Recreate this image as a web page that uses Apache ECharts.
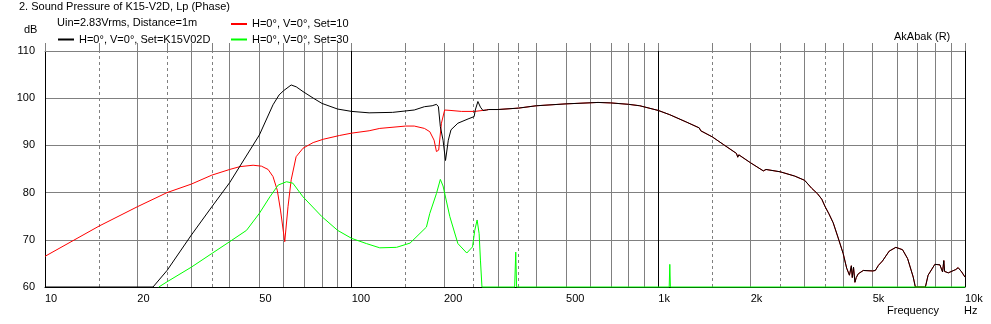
<!DOCTYPE html>
<html>
<head>
<meta charset="utf-8">
<title>Sound Pressure of K15-V2D</title>
<script src="https://cdn.jsdelivr.net/npm/echarts@6/dist/echarts.min.js"></script>
<style>
  html, body { margin: 0; padding: 0; background: #fff; }
  #chart { width: 991px; height: 324px; }
</style>
</head>
<body>
<div id="chart"></div>
<script>
// --- data (Hz / dB) ---
// black: Set=K15V02D, below 280 Hz
const k15Freq = [10, 22.5, 25, 30, 35, 40, 50, 55.4, 58, 60, 63.5, 66, 69.4, 75, 80, 90, 100, 114, 136, 160, 172.7, 183, 189, 191.8, 194.6, 198.6, 202.3, 206.6, 210.8, 222, 239.6, 250.8, 253, 258, 263, 268, 275];
const k15Db = [60, 60, 63.5, 71.0, 77.0, 82.1, 92.2, 98.6, 100.7, 101.6, 102.8, 102.4, 101.4, 100.0, 98.9, 97.7, 97.2, 96.9, 97.0, 97.5, 98.2, 98.4, 98.7, 98.2, 94.0, 91.1, 86.8, 91.1, 93.3, 94.7, 95.6, 96.1, 97.5, 99.3, 98.1, 97.4, 97.5];

// red: Set=10, below 280 Hz
const set10Freq = [10, 15, 20, 25, 30, 35, 40, 43.2, 47.7, 50.8, 53.4, 55.4, 57.2, 58.6, 60.5, 62.0, 63.5, 65.9, 69.4, 74.9, 80.8, 91.3, 100, 114, 123.5, 150, 160, 172.7, 179.8, 185.7, 189, 192.2, 196.2, 201, 210.8, 228, 252, 275];
const set10Db = [66.5, 72.9, 77.0, 80.0, 81.8, 83.7, 84.9, 85.5, 85.8, 85.6, 84.9, 83.4, 80.5, 76.3, 69.6, 77.0, 82.7, 87.6, 89.4, 90.6, 91.3, 92.1, 92.6, 93.1, 93.6, 94.1, 94.1, 93.6, 92.9, 91.1, 88.7, 89.0, 94.7, 97.5, 97.4, 97.2, 97.2, 97.5];

// above 280 Hz black and red lie on top of each other
const highFreq = [280, 300, 350, 400, 500, 636, 700, 800, 870, 1000, 1090, 1239, 1360, 1375, 1390, 1500, 1629, 1798, 1815, 1830, 2000, 2200, 2226, 2245, 2500, 2785, 3000, 3164, 3300, 3412, 3500, 3600, 3717, 3850, 4006, 4112, 4200, 4238, 4260, 4290, 4330, 4376, 4420, 4487, 4660, 5000, 5100, 5222, 5380, 5660, 5950, 6257, 6500, 6779, 6888, 7428, 7580, 7973, 8280, 8450, 8530, 8580, 8820, 9330, 9500, 9750, 10000];
const highDb = [97.6, 97.6, 97.9, 98.4, 98.8, 99.1, 99.0, 98.7, 98.4, 97.4, 96.5, 94.9, 93.7, 93.1, 93.5, 91.8, 90.2, 88.3, 87.5, 88.0, 86.3, 84.6, 84.2, 84.9, 84.4, 83.5, 82.6, 80.9, 79.8, 78.6, 77.0, 75.5, 73.6, 70.6, 67.1, 64.0, 62.5, 62.7, 64.5, 62.0, 64.2, 61.0, 62.0, 62.8, 63.5, 63.4, 63.5, 64.6, 65.5, 67.6, 68.4, 67.9, 66.0, 62.1, 60, 60, 62.5, 64.8, 64.7, 63.2, 65.6, 63.3, 63.0, 63.7, 64.1, 63.2, 62.1];

// green: Set=30
const set30Freq = [23.5, 25, 30, 35, 40, 45.4, 50, 54.1, 57.6, 61.3, 64.3, 69.4, 80, 90, 100, 111.7, 123.5, 140, 155, 175.3, 179.8, 189, 194.6, 198.6, 209, 222, 237.3, 247.8, 252, 256.5, 260.4, 263, 266, 340, 342.8, 345, 1085, 1090, 1095, 10000];
const set30Db = [60, 61.1, 64.2, 67.1, 69.6, 72.0, 75.6, 79.1, 81.6, 82.3, 82.0, 79.1, 74.9, 72.0, 70.3, 69.2, 68.3, 68.4, 69.3, 72.7, 75.6, 79.8, 82.8, 81.4, 74.9, 69.2, 67.2, 68.5, 72.0, 74.2, 71.3, 65.7, 60, 60, 67.4, 60, 60, 64.8, 60, 60];

// axis labels and grid lines
const labelFreqs = [10, 20, 50, 100, 200, 500, 1000, 2000, 5000, 10000];
const labelTexts = ['10', '20', '50', '100', '200', '500', '1k', '2k', '5k', '10k'];
const gridSolid = [20, 30, 40, 50, 60, 70, 80, 90, 200, 300, 400, 500, 600, 700, 800, 900, 2000, 3000, 4000, 5000, 6000, 7000, 8000, 9000];
const gridDashed = [15, 25, 35, 150, 250, 350, 1500, 2500, 3500];
const gridDecade = [100, 1000, 10000];

const nameK15 = 'H=0°, V=0°, Set=K15V02D';
const name10 = 'H=0°, V=0°, Set=10';
const name30 = 'H=0°, V=0°, Set=30';

const zip = (xs, ys) => xs.map((x, i) => [x, ys[i]]);
const font = { fontFamily: 'Liberation Sans', fontSize: 11, color: '#000', fontWeight: 'normal' };
const gray = '#808080';

const gridMarks = []
  .concat(gridSolid.map(v => ({ xAxis: v, lineStyle: { color: gray, type: 'solid', width: 1 } })))
  .concat(gridDashed.map(v => ({ xAxis: v, lineStyle: { color: gray, type: [3, 3], width: 1 } })))
  .concat(gridDecade.map(v => ({ xAxis: v, lineStyle: { color: '#000', type: 'solid', width: 1 } })));

const legendBase = {
  padding: 0, selectedMode: false, icon: 'inherit',
  itemWidth: 16, itemHeight: 12,
  itemStyle: { opacity: 0 },
  textStyle: Object.assign({ lineHeight: 12 }, font)
};

const chart = echarts.init(document.getElementById('chart'));
chart.setOption({
  animation: false,
  backgroundColor: '#fff',
  title: [
    { text: '2. Sound Pressure of K15-V2D, Lp (Phase)', left: 19, top: 1, padding: 0, textStyle: font },
    { text: 'Uin=2.83Vrms, Distance=1m', left: 57, top: 17.5, padding: 0, textStyle: font },
    { text: 'dB', left: 24, top: 24, padding: 0, textStyle: font },
    { text: 'AkAbak (R)', left: 894, top: 31.5, padding: 0, textStyle: font },
    { text: 'Frequency', left: 887, top: 305.5, padding: 0, textStyle: font },
    { text: 'Hz', left: 964, top: 305.5, padding: 0, textStyle: font }
  ],
  legend: [
    Object.assign({ data: [nameK15], left: 57, top: 33.5 }, legendBase),
    Object.assign({ data: [name10, name30], orient: 'vertical', left: 230, top: 18, itemGap: 3.5 }, legendBase)
  ],
  grid: { left: 45, right: 26, top: 51, bottom: 37, containLabel: false },
  xAxis: [
    {
      type: 'log', logBase: 10, min: 10, max: 10000, position: 'bottom',
      axisLine: { lineStyle: { color: '#000' } },
      axisTick: { show: false },
      splitLine: { show: false },
      axisLabel: {
        customValues: labelFreqs,
        align: 'left', margin: 6,
        fontFamily: font.fontFamily, fontSize: 11, color: '#000',
        formatter: v => {
          const i = labelFreqs.findIndex(f => Math.abs(f - v) / f < 1e-6);
          return i >= 0 ? labelTexts[i] : '';
        }
      }
    },
    {
      type: 'log', logBase: 10, min: 10, max: 10000, position: 'top',
      axisLine: { lineStyle: { color: gray } },
      axisTick: { show: true, customValues: gridSolid.concat(gridDashed, gridDecade, [10]), length: 8, lineStyle: { color: gray } },
      axisLabel: { show: false },
      splitLine: { show: false }
    }
  ],
  yAxis: {
    type: 'value', min: 60, max: 110, interval: 10,
    axisLine: { show: true, lineStyle: { color: '#000' } },
    axisTick: { show: false },
    axisLabel: { margin: 10, padding: [0, 0, 9, 0], fontFamily: font.fontFamily, fontSize: 11, color: '#000' },
    splitLine: { show: true, showMinLine: false, lineStyle: { color: gray, width: 1 } }
  },
  series: [
    {
      name: 'grid', type: 'line', data: [], silent: true,
      markLine: { silent: true, symbol: ['none', 'none'], label: { show: false }, animation: false, data: gridMarks }
    },
    {
      name: name10, type: 'line', z: 10, clip: false, symbol: 'none', showSymbol: false,
      data: zip(set10Freq.concat(highFreq), set10Db.concat(highDb)),
      lineStyle: { color: '#ff0000', width: 1 }, itemStyle: { color: '#ff0000' }
    },
    {
      name: nameK15, type: 'line', z: 11, clip: false, symbol: 'none', showSymbol: false,
      data: zip(k15Freq.concat(highFreq), k15Db.concat(highDb)),
      lineStyle: { color: '#000000', width: 1 }, itemStyle: { color: '#000000' }
    },
    {
      name: name30, type: 'line', z: 12, clip: false, symbol: 'none', showSymbol: false,
      data: zip(set30Freq, set30Db),
      lineStyle: { color: '#00ff00', width: 1 }, itemStyle: { color: '#00ff00' }
    }
  ]
});
</script>
</body>
</html>
